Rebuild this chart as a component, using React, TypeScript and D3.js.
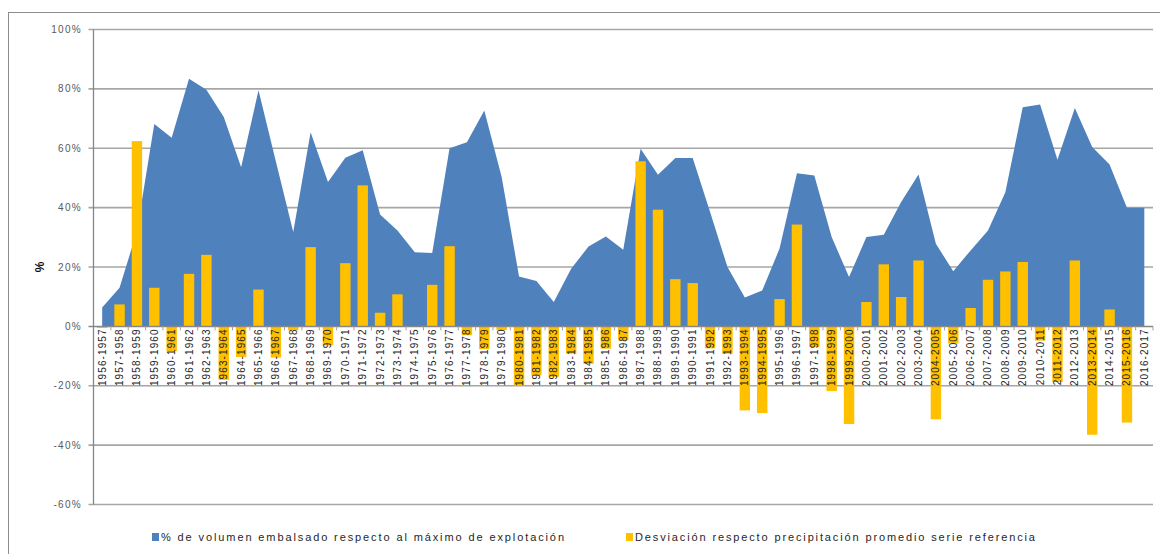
import React, { useEffect, useRef } from "react";
import * as d3 from "d3";

// hydrological years
const years = [
  "1956-1957", "1957-1958", "1958-1959", "1959-1960", "1960-1961", "1961-1962",
  "1962-1963", "1963-1964", "1964-1965", "1965-1966", "1966-1967", "1967-1968",
  "1968-1969", "1969-1970", "1970-1971", "1971-1972", "1972-1973", "1973-1974",
  "1974-1975", "1975-1976", "1976-1977", "1977-1978", "1978-1979", "1979-1980",
  "1980-1981", "1981-1982", "1982-1983", "1983-1984", "1984-1985", "1985-1986",
  "1986-1987", "1987-1988", "1988-1989", "1989-1990", "1990-1991", "1991-1992",
  "1992-1993", "1993-1994", "1994-1995", "1995-1996", "1996-1997", "1997-1998",
  "1998-1999", "1999-2000", "2000-2001", "2001-2002", "2002-2003", "2003-2004",
  "2004-2005", "2005-2006", "2006-2007", "2007-2008", "2008-2009", "2009-2010",
  "2010-2011", "2011-2012", "2012-2013", "2013-2014", "2014-2015", "2015-2016",
  "2016-2017",
];

// % de volumen embalsado (area)
const volumen = [
  6.4, 13, 32, 68.2, 63.5, 83.4, 79.7, 70.5, 53.6, 79.5, 55.5, 31.8,
  65.4, 48.6, 56.8, 59.3, 37.7, 32.3, 25, 24.7, 60, 62, 72.7, 50.3,
  16.8, 15.3, 8.2, 19.4, 26.9, 30.3, 25.8, 59.8, 51.1, 56.7, 56.7, 38.5,
  20, 9.7, 12.1, 26.2, 51.6, 50.8, 30.1, 16.6, 30.1, 30.9, 41.9, 51.2,
  27.8, 18.6, 25.6, 32.3, 45.2, 73.8, 74.7, 56.1, 73.6, 60.4, 54.5, 40,
  40,
];

// desviacion precipitacion (bars)
const desviacion = [
  -0.5, 7.4, 62.4, 13, -8.3, 17.7, 24.1, -18, -10.3, 12.4, -10.5, -1.3,
  26.7, -6.4, 21.3, 47.5, 4.6, 10.8, 0, 14, 27, -3, -7.7, -1.3,
  -19.9, -16.5, -17, -9.2, -12.6, -7.5, -4.7, 55.6, 39.3, 15.9, 14.6, -7.4,
  -9.2, -28.3, -29.2, 9.2, 34.3, -7, -21.8, -32.9, 8.2, 20.9, 9.9, 22.2,
  -31.3, -5.8, 6.2, 15.7, 18.5, 21.7, -4.8, -18.7, 22.2, -36.5, 5.7, -32.4,
  0,
];

const yTicks = [100, 80, 60, 40, 20, 0, -20, -40, -60];

const legendLabels = [
  "% de volumen embalsado respecto al máximo de explotación",
  "Desviación respecto precipitación promedio serie referencia",
];

const BLUE = "#4f81bd";
const YELLOW = "#ffc000";
const FONT = "'Liberation Sans', Arial, sans-serif";

const App = () => {
  const svgRef = useRef(null);

  useEffect(() => {
    if (!svgRef.current) return;

    const width = 1160;
    const height = 554;
    const left = 93.5;
    const right = 1153;

    const x = d3
      .scaleBand()
      .domain(years)
      .range([left, right])
      .paddingInner(0.4)
      .paddingOuter(0.2);
    const y = d3.scaleLinear().domain([-60, 100]).range([504.5, 29.5]);
    const cx = (d) => x(d) + x.bandwidth() / 2;

    const svg = d3.select(svgRef.current);
    svg.selectAll("*").remove();
    svg.attr("width", width).attr("height", height);

    svg
      .append("rect")
      .attr("width", width)
      .attr("height", height)
      .attr("fill", "#fff");

    // chart frame (runs off the right and bottom of the picture)
    svg
      .append("rect")
      .attr("x", 8.5)
      .attr("y", 12.5)
      .attr("width", 1160)
      .attr("height", 560)
      .attr("fill", "none")
      .attr("stroke", "#8c8c8c");

    // gridlines
    svg
      .append("g")
      .selectAll("line")
      .data(yTicks.filter((t) => t !== 0))
      .enter()
      .append("line")
      .attr("x1", left - 5)
      .attr("x2", right)
      .attr("y1", (d) => y(d))
      .attr("y2", (d) => y(d))
      .attr("stroke", "#a6a6a6")
      .attr("stroke-width", 1.6);

    // y tick labels
    svg
      .append("g")
      .selectAll("text")
      .data(yTicks)
      .enter()
      .append("text")
      .attr("x", 82)
      .attr("y", (d) => y(d))
      .attr("dy", "0.35em")
      .attr("text-anchor", "end")
      .attr("font-family", FONT)
      .attr("font-size", 10)
      .attr("letter-spacing", 1.3)
      .attr("fill", "#595959")
      .text((d) => `${d}%`);

    // y axis title
    svg
      .append("text")
      .attr("transform", `translate(40, ${y(20)}) rotate(-90)`)
      .attr("text-anchor", "middle")
      .attr("dy", "0.35em")
      .attr("font-family", FONT)
      .attr("font-size", 12)
      .attr("font-weight", "bold")
      .attr("fill", "#111")
      .text("%");

    // area: volumen embalsado
    const area = d3
      .area()
      .x((d, i) => cx(years[i]))
      .y0(y(0))
      .y1((d) => y(d));
    svg.append("path").datum(volumen).attr("d", area).attr("fill", BLUE);

    // bars: desviacion
    svg
      .append("g")
      .selectAll("rect")
      .data(desviacion)
      .enter()
      .append("rect")
      .attr("x", (d, i) => x(years[i]))
      .attr("y", (d) => y(Math.max(0, d)))
      .attr("width", x.bandwidth())
      .attr("height", (d) => Math.abs(y(d) - y(0)))
      .attr("fill", YELLOW);

    // y axis line + ticks
    svg
      .append("line")
      .attr("x1", left)
      .attr("x2", left)
      .attr("y1", y(100))
      .attr("y2", y(-60))
      .attr("stroke", "#868686")
      .attr("stroke-width", 1.3);

    // x axis line at 0
    svg
      .append("line")
      .attr("x1", left - 5)
      .attr("x2", right)
      .attr("y1", y(0))
      .attr("y2", y(0))
      .attr("stroke", "#868686")
      .attr("stroke-width", 1.5);

    // x ticks between categories
    const step = x.step();
    svg
      .append("g")
      .selectAll("line")
      .data(years)
      .enter()
      .append("line")
      .attr("x1", (d) => cx(d) + step / 2)
      .attr("x2", (d) => cx(d) + step / 2)
      .attr("y1", y(0))
      .attr("y2", y(0) + 4)
      .attr("stroke", "#a0a0a0");

    // x labels
    svg
      .append("g")
      .selectAll("text")
      .data(years)
      .enter()
      .append("text")
      .attr("transform", (d) => `translate(${cx(d)}, ${y(0) + 2}) rotate(-90)`)
      .attr("text-anchor", "end")
      .attr("dy", "0.35em")
      .attr("font-family", FONT)
      .attr("font-size", 10)
      .attr("letter-spacing", 1.1)
      .attr("fill", "#262626")
      .text((d) => d);

    // legend
    const legend = svg.append("g").attr("font-family", FONT).attr("font-size", 11);
    const items = [
      { label: legendLabels[0], color: BLUE, x0: 152, x1: 564 },
      { label: legendLabels[1], color: YELLOW, x0: 626, x1: 1035 },
    ];
    items.forEach((it) => {
      legend
        .append("rect")
        .attr("x", it.x0)
        .attr("y", 533)
        .attr("width", 7)
        .attr("height", 8)
        .attr("fill", it.color);
      legend
        .append("text")
        .attr("x", it.x0 + 9)
        .attr("y", 537)
        .attr("dy", "0.35em")
        .attr("fill", "#262626")
        .attr("textLength", it.x1 - it.x0 - 9)
        .attr("lengthAdjust", "spacing")
        .text(it.label);
    });
  }, []);

  return (
    <svg
      ref={svgRef}
      style={{ position: "absolute", left: 0, top: 0, display: "block" }}
    ></svg>
  );
};

export default App;
